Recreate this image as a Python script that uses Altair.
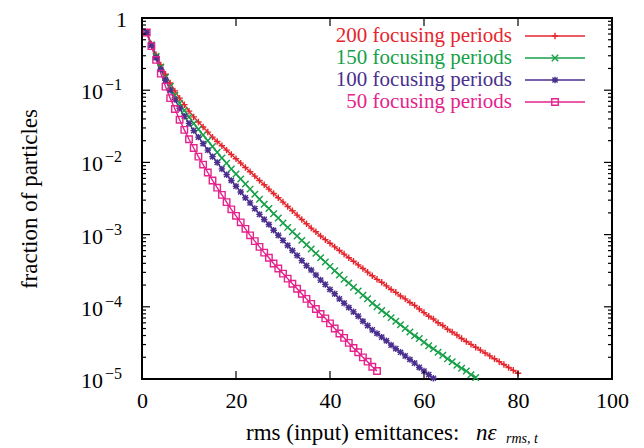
import altair as alt
import pandas as pd

# ---------------- data (log10 of fraction of particles, at x = 1, 2, 3, ...) -------------
series_labels = ["200 focusing periods", "150 focusing periods",
                 "100 focusing periods", "50 focusing periods"]
series_colors = ["#e5262e", "#16a048", "#4a2f8e", "#e4238c"]

log_200 = [-0.20, -0.36, -0.51, -0.65, -0.78, -0.90, -1.01, -1.11, -1.20, -1.29,
           -1.37, -1.44, -1.51, -1.58, -1.65, -1.71, -1.77, -1.83, -1.89, -1.95,
           -2.01, -2.07, -2.13, -2.19, -2.25, -2.31, -2.37, -2.43, -2.49, -2.55,
           -2.61, -2.67, -2.73, -2.79, -2.85, -2.91, -2.96, -3.02, -3.07, -3.12,
           -3.17, -3.22, -3.27, -3.32, -3.37, -3.42, -3.47, -3.52, -3.57, -3.62,
           -3.66, -3.71, -3.76, -3.80, -3.85, -3.89, -3.94, -3.98, -4.03, -4.08,
           -4.13, -4.17, -4.22, -4.26, -4.31, -4.35, -4.39, -4.44, -4.48, -4.52,
           -4.56, -4.60, -4.64, -4.68, -4.72, -4.76, -4.80, -4.84, -4.88, -4.92]

log_150 = [-0.20, -0.37, -0.53, -0.68, -0.82, -0.95, -1.07, -1.18, -1.28, -1.37,
           -1.46, -1.54, -1.62, -1.70, -1.78, -1.86, -1.94, -2.01, -2.09, -2.16,
           -2.23, -2.30, -2.37, -2.44, -2.51, -2.58, -2.64, -2.71, -2.77, -2.84,
           -2.90, -2.96, -3.02, -3.08, -3.14, -3.20, -3.26, -3.32, -3.38, -3.44,
           -3.50, -3.56, -3.62, -3.67, -3.73, -3.78, -3.84, -3.89, -3.95, -4.00,
           -4.05, -4.10, -4.15, -4.20, -4.25, -4.30, -4.35, -4.40, -4.44, -4.49,
           -4.54, -4.58, -4.63, -4.67, -4.72, -4.76, -4.81, -4.85, -4.89, -4.94,
           -4.98]

log_100 = [-0.20, -0.38, -0.55, -0.71, -0.86, -1.00, -1.13, -1.25, -1.36, -1.46,
           -1.56, -1.65, -1.74, -1.83, -1.92, -2.00, -2.09, -2.17, -2.25, -2.33,
           -2.41, -2.49, -2.56, -2.64, -2.72, -2.79, -2.86, -2.94, -3.01, -3.08,
           -3.15, -3.22, -3.29, -3.36, -3.43, -3.49, -3.56, -3.63, -3.69, -3.76,
           -3.82, -3.89, -3.95, -4.01, -4.07, -4.13, -4.20, -4.26, -4.32, -4.37,
           -4.42, -4.47, -4.53, -4.58, -4.63, -4.68, -4.73, -4.78, -4.84, -4.89,
           -4.94, -4.99]

log_50 = [-0.20, -0.39, -0.58, -0.77, -0.95, -1.11, -1.26, -1.41, -1.55, -1.68,
          -1.80, -1.92, -2.03, -2.14, -2.25, -2.35, -2.45, -2.55, -2.65, -2.74,
          -2.83, -2.92, -3.01, -3.09, -3.17, -3.25, -3.32, -3.40, -3.47, -3.54,
          -3.61, -3.68, -3.75, -3.82, -3.89, -3.96, -4.03, -4.10, -4.16, -4.23,
          -4.30, -4.37, -4.43, -4.50, -4.57, -4.63, -4.70, -4.76, -4.83, -4.89]

x_ticks = [0, 20, 40, 60, 80, 100]
y_major = [1, 1e-1, 1e-2, 1e-3, 1e-4, 1e-5]
y_sup = ["", "\u22121", "\u22122", "\u22123", "\u22124", "\u22125"]
y_base = ["1", "10", "10", "10", "10", "10"]

# ---------------- layout / style -------------
W, H = 470, 361
FONT = "Liberation Serif"
FS = 22        # tick labels
FT = 23        # axis titles
FL = 21        # legend

series_logs = [log_200, log_150, log_100, log_50]
rows = []
for lab, vals in zip(series_labels, series_logs):
    for i, v in enumerate(vals):
        rows.append({"series": lab, "x": i + 1, "y": 10 ** v})
df = pd.DataFrame(rows)

plus = "M-1,0H1M0,-1V1"
cross = "M-1,-1L1,1M-1,1L1,-1"
star = "M-1,0H1M0,-1V1M-0.8,-0.8L0.8,0.8M-0.8,0.8L0.8,-0.8"
shapes = [plus, cross, star, "square"]

xsc = alt.Scale(domain=[0, 100], nice=False, zero=False)
ysc = alt.Scale(type="log", domain=[1e-5, 1], nice=False)
csc = alt.Scale(domain=series_labels, range=series_colors)
ssc = alt.Scale(domain=series_labels, range=shapes)

x_enc = alt.X("x:Q", scale=xsc, axis=alt.Axis(values=x_ticks, ticks=False, domain=False, grid=False,
                                             labelFont=FONT, labelFontSize=FS, labelColor="black",
                                             labelFlush=False, labelPadding=11, title=None))
y_enc = alt.Y("y:Q", scale=ysc, axis=None)

lines = alt.Chart(df).mark_line(strokeWidth=1.4, clip=True).encode(
    x=x_enc, y=y_enc,
    color=alt.Color("series:N", scale=csc, legend=None),
    detail="series:N",
)
points = alt.Chart(df).mark_point(filled=False, strokeWidth=1.4, size=42, opacity=1).encode(
    x=alt.X("x:Q", scale=xsc), y=alt.Y("y:Q", scale=ysc),
    color=alt.Color("series:N", scale=csc, legend=None),
    shape=alt.Shape("series:N", scale=ssc, legend=None),
)

# ticks (inward, gnuplot style)
minor_vals = []
for e in range(-5, 0):
    for m in range(2, 10):
        minor_vals.append(m * 10 ** e)
ymaj_df = pd.DataFrame({"y": y_major, "base": y_base, "sup": y_sup})
ymin_df = pd.DataFrame({"y": minor_vals})
xt_df = pd.DataFrame({"x": x_ticks})

yv = alt.Y("y:Q", scale=ysc)
tick_layers = [
    alt.Chart(ymaj_df).mark_rule(color="black", strokeWidth=1.2).encode(y=yv, x=alt.value(0), x2=alt.value(8)),
    alt.Chart(ymaj_df).mark_rule(color="black", strokeWidth=1.2).encode(y=yv, x=alt.value(W - 8), x2=alt.value(W)),
    alt.Chart(ymin_df).mark_rule(color="black", strokeWidth=1.2).encode(y=yv, x=alt.value(0), x2=alt.value(4)),
    alt.Chart(ymin_df).mark_rule(color="black", strokeWidth=1.2).encode(y=yv, x=alt.value(W - 4), x2=alt.value(W)),
    alt.Chart(xt_df).mark_rule(color="black", strokeWidth=1.2).encode(x=alt.X("x:Q", scale=xsc), y=alt.value(H - 8), y2=alt.value(H)),
    alt.Chart(xt_df).mark_rule(color="black", strokeWidth=1.2).encode(x=alt.X("x:Q", scale=xsc), y=alt.value(0), y2=alt.value(8)),
]

# y tick labels: "10" + superscript exponent
pow_df = ymaj_df[ymaj_df["sup"] != ""]
one_df = ymaj_df[ymaj_df["sup"] == ""]
ylab_base = alt.Chart(pow_df).mark_text(font=FONT, fontSize=FS, align="right", baseline="middle",
                                        color="black", dy=2).encode(
    y=yv, x=alt.value(-39), text="base:N")
ylab_one = alt.Chart(one_df).mark_text(font=FONT, fontSize=FS, align="right",
                                       baseline="middle", color="black", dy=2).encode(
    y=yv, x=alt.value(-15), text="base:N")
ylab_sup = alt.Chart(pow_df).mark_text(font=FONT, fontSize=16, align="left",
                                       baseline="middle", color="black", dy=-5).encode(
    y=yv, x=alt.value(-37), text="sup:N")

# axis titles
ytitle = alt.Chart(pd.DataFrame({"t": ["fraction of particles"]})).mark_text(
    font=FONT, fontSize=FT, angle=270, align="center", baseline="middle", color="black").encode(
    x=alt.value(-112), y=alt.value(181), text="t:N")
xt1 = alt.Chart(pd.DataFrame({"t": ["rms (input) emittances:"]})).mark_text(
    font=FONT, fontSize=FT, align="left", baseline="alphabetic", color="black").encode(
    x=alt.value(104), y=alt.value(422), text="t:N")
xt2 = alt.Chart(pd.DataFrame({"t": ["n\u03b5"]})).mark_text(
    font=FONT, fontSize=FT, fontStyle="italic", align="left", baseline="alphabetic", color="black").encode(
    x=alt.value(334), y=alt.value(422), text="t:N")
xt3 = alt.Chart(pd.DataFrame({"t": ["rms, t"]})).mark_text(
    font=FONT, fontSize=14, fontStyle="italic", align="left", baseline="alphabetic", color="black").encode(
    x=alt.value(364), y=alt.value(425), text="t:N")

# legend
leg_layers = []
leg_y = [18, 40, 62, 84]
for lab, col, shp, ly in zip(series_labels, series_colors, shapes, leg_y):
    d = pd.DataFrame({"t": [lab]})
    leg_layers.append(alt.Chart(d).mark_text(font=FONT, fontSize=FL, align="right", baseline="middle",
                                             color=col).encode(x=alt.value(370), y=alt.value(ly), text="t:N"))
    leg_layers.append(alt.Chart(d).mark_rule(color=col, strokeWidth=1.4).encode(
        x=alt.value(383), x2=alt.value(443), y=alt.value(ly)))
    leg_layers.append(alt.Chart(d).mark_point(filled=False, strokeWidth=1.4, size=42, opacity=1,
                                              color=col, shape=shp).encode(x=alt.value(413), y=alt.value(ly)))

chart = alt.layer(
    lines, points, *tick_layers, ylab_base, ylab_one, ylab_sup, ytitle, xt1, xt2, xt3, *leg_layers
).properties(
    width=W, height=H,
    autosize=alt.AutoSizeParams(type="none"),
    padding={"left": 142, "top": 18, "right": 32, "bottom": 69},
    background="white",
).configure_view(stroke="black", strokeWidth=2)

chart.save("out.html", embed_options={"renderer": "svg", "actions": False})
